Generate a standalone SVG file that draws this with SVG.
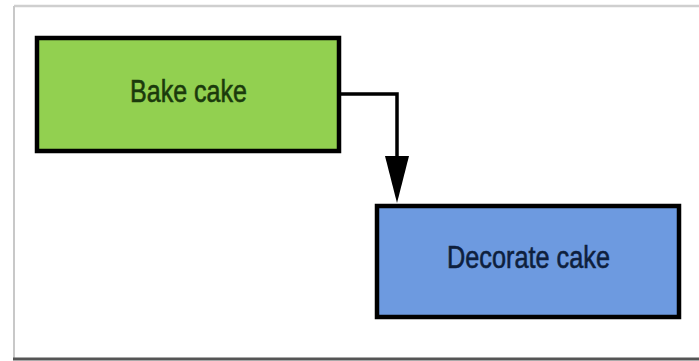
<svg xmlns="http://www.w3.org/2000/svg" width="699" height="361" viewBox="0 0 699 361">
  <defs>
    <style>
      .node rect { stroke: #000; stroke-width: 4.5; }
      .label { font-family: "Liberation Sans", Arial, sans-serif; font-size: 31px; stroke-width: 0.6; }
      .conn { fill: none; stroke: #000; stroke-width: 3.5; }
    </style>
  </defs>
  <rect x="0" y="0" width="699" height="361" fill="#fff"/>
  <g id="frame">
    <line x1="14" y1="6" x2="699" y2="6" stroke="#cfcfcf" stroke-width="2.5"/>
    <line x1="14" y1="6" x2="14" y2="359" stroke="#c8c8c8" stroke-width="2"/>
    <line x1="13" y1="359" x2="699" y2="359" stroke="#555" stroke-width="3"/>
  </g>
  <g id="connectors">
    <path class="conn" d="M339,94 H397 V158"/>
    <polygon points="385,156 409,156 397,203" fill="#000"/>
  </g>
  <g id="bake" class="node">
    <rect x="37" y="38" width="302" height="113" fill="#92d050"/>
    <text class="label" x="188.5" y="102" text-anchor="middle" fill="#1b3a0c" stroke="#1b3a0c" textLength="117" lengthAdjust="spacingAndGlyphs">Bake cake</text>
  </g>
  <g id="decorate" class="node">
    <rect x="377" y="206" width="302" height="111" fill="#6d9ae0"/>
    <text class="label" x="528.5" y="268" text-anchor="middle" fill="#0e1f3d" stroke="#0e1f3d" textLength="163" lengthAdjust="spacingAndGlyphs">Decorate cake</text>
  </g>
</svg>
